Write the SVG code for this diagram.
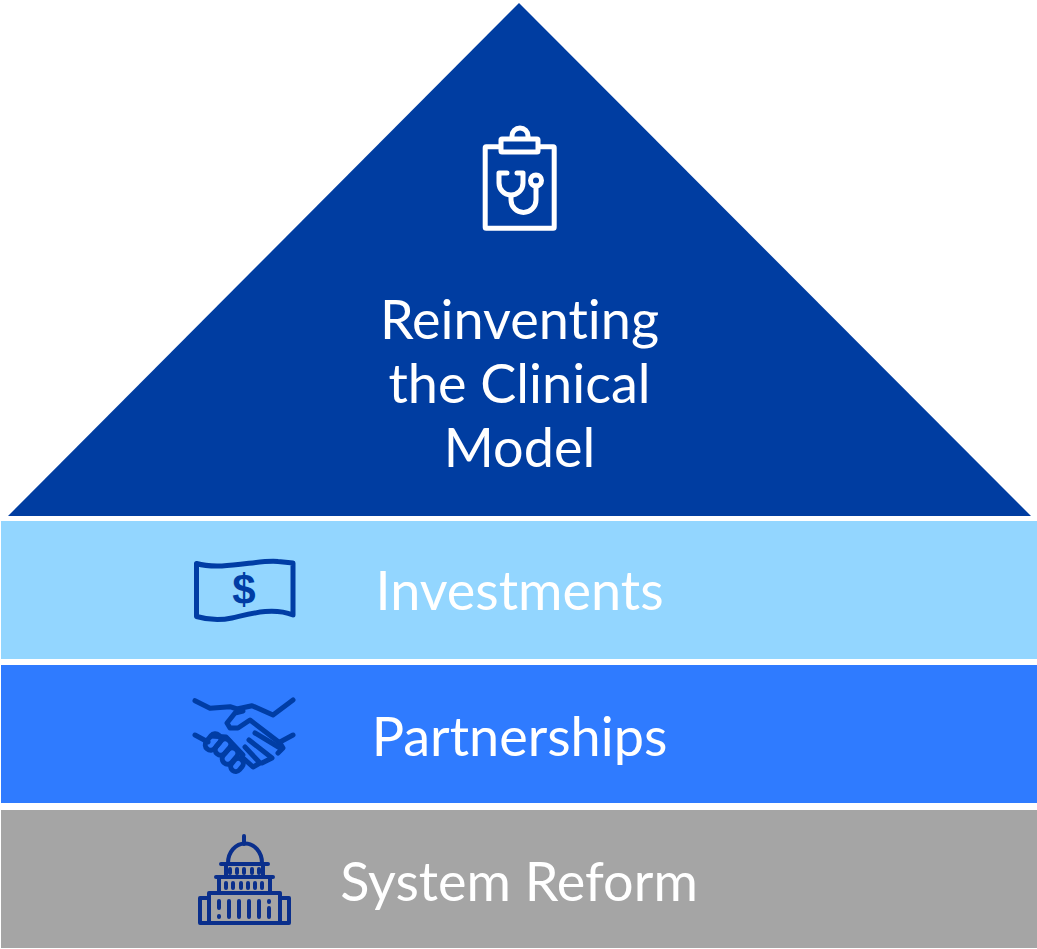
<svg xmlns="http://www.w3.org/2000/svg" width="1037" height="949" viewBox="0 0 1037 949">
<style>
.t{font-family:Lato,"Liberation Sans",sans-serif;font-size:54px;fill:#fff;text-anchor:middle;font-variant-ligatures:none}
.w{fill:none;stroke:#fff;stroke-width:5;stroke-linecap:round;stroke-linejoin:round}
.b{fill:none;stroke:#003da5;stroke-width:5;stroke-linecap:round;stroke-linejoin:round}
</style>
<rect width="1037" height="949" fill="#fff"/>
<g id="apex">
<polygon points="519,3 1031,516 8,516" fill="#003da1"/>
<g class="w">
<rect x="485.200" y="146.800" width="69" height="81.500" rx="1"/>
<path d="M512 137v-1a8 8 0 0 1 16 0v1"/>
<rect x="501" y="139" width="37" height="13" rx="1" fill="#003da1"/>
<path d="M507 173h-8v10a12 12 0 0 0 24 0v-10h-6"/>
<path d="M511 197v3a12.500 12.500 0 0 0 25 0v-14"/>
<circle cx="536" cy="180.500" r="5.500"/>
</g>
<text class="t" x="519.500" y="339">Reinventing</text>
<text class="t" x="519.500" y="403">the Clinical</text>
<text class="t" x="519.500" y="467">Model</text>
</g>
<g id="investments">
<rect x="1" y="521" width="1036" height="138" fill="#93d6ff"/>
<path class="b" d="M196.500 563.500C222 571 260 559 278 561.500L293 563V615C272 607 250 614 232 618C218 621 205 619 196.500 616.500Z"/>
<text x="244" y="603.500" font-family="Liberation Sans,sans-serif" font-size="42" font-weight="700" fill="#003da5" text-anchor="middle">$</text>
<text class="t" x="519.500" y="610">Investments</text>
</g>
<g id="partnerships">
<rect x="1" y="665" width="1036" height="138" fill="#2f7bff"/>
<g fill="none" stroke="#003da5" stroke-width="5" stroke-linecap="round" stroke-linejoin="round">
<path d="M195 700.700L210 708.300L230 706.700L237 709L252 705.700L273 715L293 700"/>
<path d="M243 711L235 713L227 723L230 728H238L250 720L280 743L283 748L278 753"/>
<path d="M255 733L280 748M249 740L272 758L262 763M245 747L260 763L253 767L242 757"/>
<path d="M280 742L293 735M195 735L208 742"/>
<path d="M211 736L226 737L243 755"/>
<rect x="204" y="736.500" width="18" height="11" rx="5.500" transform="rotate(-50 213 742)"/>
<rect x="214" y="741.500" width="18" height="11" rx="5.500" transform="rotate(-50 223 747)"/>
<rect x="221" y="750.500" width="18" height="11" rx="5.500" transform="rotate(-50 230 756)"/>
<rect x="230" y="760" width="14" height="10" rx="5" transform="rotate(-50 237 765)"/>
</g>
<text class="t" x="519.500" y="756">Partnerships</text>
</g>
<g id="system-reform">
<rect x="1" y="810" width="1036" height="138" fill="#a5a5a5"/>
<g fill="none" stroke="#0a2f8c" stroke-width="4" stroke-linecap="round" stroke-linejoin="round">
<path d="M244 836v8"/>
<path d="M228 863a16.500 19 0 0 1 34 0"/>
<path d="M221 864h47M226 864v12M263 864v12"/>
<path d="M216 877h57M219 877v16M270 877v16"/>
<rect x="209" y="893" width="71" height="30"/>
<path d="M209 898H200V923H289V898H280"/>
<path d="M230 869v4M237 869v4M244 869v4M252 869v4M259 869v4"/>
<path d="M226 883v5M233 883v5M241 883v5M248 883v5M255 883v5M262 883v5"/>
<path d="M219 901v7M219 916v1M229 901v16M239 901v16M249 901v16M259 901v16M269 901v1M269 908v9"/>
</g>
<text class="t" x="519" y="901">System Reform</text>
</g>
</svg>
